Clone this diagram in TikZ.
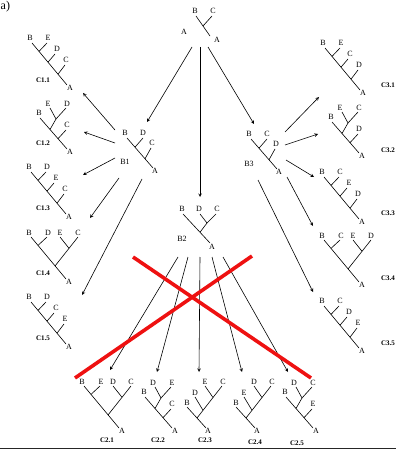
\documentclass[tikz,border=0pt]{standalone}
\usepackage{fontspec}
\setmainfont{Liberation Serif}
\usetikzlibrary{arrows}
\definecolor{cx}{HTML}{EE1111}

\tikzset{
  leaf/.style={inner sep=0pt,font=\fontsize{8}{8}\selectfont},
  tname/.style={inner sep=0pt,font=\fontsize{7}{7}\selectfont\bfseries},
  edge/.style={line width=0.6pt},
  cross/.style={cx,line width=3.6pt},
}

% caterpillar tree with four leaves
\newcommand{\catfour}[6]{%
  \begin{scope}[shift={#2}]
    \draw[edge] (2,5) -- (37,47);
    \draw[edge] (9,13.4) -- (17,5);
    \draw[edge] (18,24.2) -- (25,16);
    \draw[edge] (28,36.2) -- (35,27);
    \node[leaf] (#1-1) at (0,0) {#3};
    \node[leaf] (#1-2) at (18,0) {#4};
    \node[leaf] (#1-3) at (27,11) {#5};
    \node[leaf] (#1-4) at (36,22) {#6};
    \node[leaf] (#1-a) at (40,50) {A};
  \end{scope}}
% cherry on top, one leaf below
\newcommand{\cherrycat}[6]{%
  \begin{scope}[shift={#2}]
    \draw[edge] (1,5) -- (28,36);
    \draw[edge] (11,-5) -- (17,6) -- (27,-5);
    \draw[edge] (17,6) -- (11,16.5);
    \draw[edge] (19,25.7) -- (27,17);
    \node[leaf] (#1-1) at (0,0) {#3};
    \node[leaf] (#1-2) at (9,-9) {#4};
    \node[leaf] (#1-3) at (28,-9) {#5};
    \node[leaf] (#1-4) at (28,12) {#6};
    \node[leaf] (#1-a) at (31,39) {A};
  \end{scope}}
% two cherries
\newcommand{\balanced}[6]{%
  \begin{scope}[shift={#2}]
    \draw[edge] (2,4) -- (37,46);
    \draw[edge] (9,12.4) -- (18,4);
    \draw[edge] (26,33) -- (49,4);
    \draw[edge] (40,15.3) -- (31,4);
    \node[leaf] (#1-1) at (0,0) {#3};
    \node[leaf] (#1-2) at (19,0) {#4};
    \node[leaf] (#1-3) at (31,0) {#5};
    \node[leaf] (#1-4) at (49,0) {#6};
    \node[leaf] (#1-a) at (40,49) {A};
  \end{scope}}
% caterpillar leaning the other way
\newcommand{\mirrorcat}[6]{%
  \begin{scope}[shift={#2}]
    \draw[edge] (35,-17) -- (10,15) -- (19,25);
    \draw[edge] (18,-17) -- (26,-5.5);
    \draw[edge] (8,-6) -- (16,7.3);
    \draw[edge] (0,4) -- (10,15);
    \node[leaf] (#1-1) at (0,0) {#3};
    \node[leaf] (#1-2) at (8,-10) {#4};
    \node[leaf] (#1-3) at (18,-21) {#5};
    \node[leaf] (#1-4) at (36,-21) {#6};
    \node[leaf] (#1-a) at (21,28) {A};
  \end{scope}}
% three leaves
\newcommand{\threecat}[5]{%
  \begin{scope}[shift={#2}]
    \draw[edge] (2,5) -- (28,35);
    \draw[edge] (10,14.2) -- (18,5);
    \draw[edge] (20,25.8) -- (26,15);
    \node[leaf] (#1-1) at (0,0) {#3};
    \node[leaf] (#1-2) at (18,0) {#4};
    \node[leaf] (#1-3) at (27,10) {#5};
    \node[leaf] (#1-a) at (30,38) {A};
  \end{scope}}

\begin{document}
\begin{tikzpicture}[x=1pt,y=-1pt,>=stealth]
  \useasboundingbox (0,0) rectangle (396,449);
  \node[anchor=north west,inner sep=0pt,font=\fontsize{12}{12}\selectfont] (part) at (0.5,0.5) {a)};

  % start tree
  \draw[edge] (196,16) -- (210,36);
  \draw[edge] (212,16) -- (203,26);
  \node[leaf] (r-b) at (195,11) {B};
  \node[leaf] (r-c) at (213,11) {C};
  \node[leaf] (r-a1) at (184,32) {A};
  \node[leaf] (r-a2) at (217,40) {A};

  % second row
  \threecat{b1}{(125,133)}{B}{D}{C}
  \threecat{b3}{(249,134)}{B}{C}{D}
  \begin{scope}[shift={(182,209)}]
    \draw[edge] (1,5) -- (28,34);
    \draw[edge] (18,5) -- (25,14) -- (34,5);
    \draw[edge] (25,14) -- (18,23.3);
    \node[leaf] (b2-1) at (0,0) {B};
    \node[leaf] (b2-2) at (17,0) {D};
    \node[leaf] (b2-3) at (35,0) {C};
    \node[leaf] (b2-a) at (30,38) {A};
  \end{scope}
  \node[leaf] (n-b1) at (125,162) {B1};
  \node[leaf] (n-b2) at (182,239) {B2};
  \node[leaf] (n-b3) at (249,164) {B3};

  % left column
  \catfour{c11}{(30,38)}{B}{E}{D}{C}
  \cherrycat{c12}{(39,113)}{B}{E}{D}{C}
  \catfour{c13}{(29,167)}{B}{D}{E}{C}
  \balanced{c14}{(29,233)}{B}{D}{E}{C}
  \catfour{c15}{(29,297)}{B}{D}{C}{E}
  % right column
  \catfour{c31}{(323,43)}{B}{E}{C}{D}
  \cherrycat{c32}{(331,117)}{B}{E}{C}{D}
  \catfour{c33}{(322,172)}{B}{C}{E}{D}
  \balanced{c34}{(322,236)}{B}{C}{E}{D}
  \catfour{c35}{(322,301)}{B}{C}{D}{E}
  % bottom row
  \balanced{c21}{(82,382)}{B}{E}{D}{C}
  \cherrycat{c22}{(144,392)}{B}{D}{E}{C}
  \mirrorcat{c23}{(187,403)}{B}{D}{E}{C}
  \mirrorcat{c24}{(236,403)}{B}{E}{D}{C}
  \cherrycat{c25}{(285,392)}{B}{D}{C}{E}

  \foreach \n/\t/\x/\y in {n11/C1.1/43/80, n12/C1.2/43/143, n13/C1.3/43/208,
      n14/C1.4/43/273, n15/C1.5/43/338, n31/C3.1/388/85, n32/C3.2/388/150,
      n33/C3.3/388/213, n34/C3.4/388/278, n35/C3.5/388/343, n21/C2.1/107/440,
      n22/C2.2/158/440, n23/C2.3/205/440, n24/C2.4/255/442, n25/C2.5/297/443}
    \node[tname] (\n) at (\x,\y) {\t};

  % arrow ends
  \foreach \n/\x/\y in {f-b1/192/47, t-b1/147/122, f-b2/200/47, t-b2/200/197,
      f-b3/208/47, t-b3/254/124,
      f-c11/115/130, t-c11/83/93, f-c12/115/143, t-c12/84/132,
      f-c13/115/158, t-c13/83/175, f-c14/119/178, t-c14/90/218,
      f-c15/142/179, t-c15/82/295,
      f-c31/285/132, t-c31/319/97, f-c32/285/145, t-c32/318/134,
      f-c33/286/160, t-c33/314/177, f-c34/287/177, t-c34/313/226,
      f-c35/258/180, t-c35/313/292,
      f-c21/178/257, t-c21/110/370, f-c22/188/257, t-c22/157/372,
      f-c23/200/257, t-c23/199/372, f-c24/212/257, t-c24/242/372,
      f-c25/223/257, t-c25/288/372}
    \coordinate (\n) at (\x,\y);
  \foreach \k in {b1,b2,b3,c11,c12,c13,c14,c15,c31,c32,c33,c34,c35,c21,c22,c23,c24,c25}
    \draw[edge,->] (f-\k) -- (t-\k);

  % crossed out
  \coordinate (xa) at (75,378);
  \coordinate (xb) at (252,256);
  \coordinate (xc) at (133,257);
  \coordinate (xd) at (311,378);
  \draw[cross] (xa) -- (xb);
  \draw[cross] (xc) -- (xd);

  \draw[line width=1.5pt,black!85] (0,448.5) -- (396,448.5);
\end{tikzpicture}
\end{document}
